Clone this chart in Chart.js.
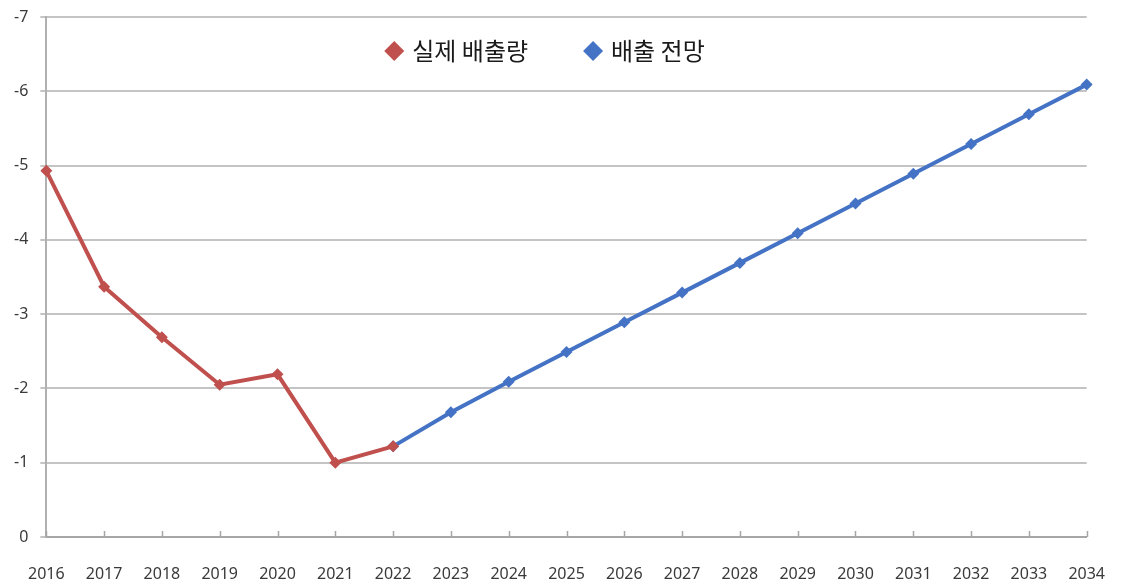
<!DOCTYPE html>
<html>
<head>
<meta charset="utf-8">
<script src="https://cdn.jsdelivr.net/npm/chart.js"></script>
<style>
  html, body { margin: 0; padding: 0; background: #fff; }
  #wrap { width: 1133px; height: 587px; }
</style>
</head>
<body>
<div id="wrap"><canvas id="lineChart" width="1133" height="587"></canvas></div>
<script>
const years = ['2016','2017','2018','2019','2020','2021','2022','2023','2024','2025',
  '2026','2027','2028','2029','2030','2031','2032','2033','2034'];
const actual = [-4.93, -3.37, -2.69, -2.05, -2.19, -1.0, -1.22,
  null, null, null, null, null, null, null, null, null, null, null, null];
const outlook = [null, null, null, null, null, null, -1.22,
  -1.68, -2.09, -2.49, -2.89, -3.29, -3.69, -4.09, -4.49, -4.89, -5.29, -5.69, -6.09];
const yTicks = [0, -1, -2, -3, -4, -5, -6, -7];

const gridGray = '#c4c4c4';
const textColor = '#3a3a3a';

// small tick marks standing up from the category axis
const innerTicks = {
  id: 'innerTicks',
  afterDatasetsDraw(chart) {
    const x = chart.scales.x, ctx = chart.ctx, bottom = chart.chartArea.bottom;
    ctx.save();
    ctx.strokeStyle = '#a6a6a6';
    ctx.lineWidth = 1.5;
    years.forEach((y, i) => {
      const px = Math.round(x.getPixelForTick(i)) + 0.5;
      ctx.beginPath();
      ctx.moveTo(px, bottom);
      ctx.lineTo(px, bottom - 6);
      ctx.stroke();
    });
    ctx.restore();
  }
};

// legend drawn inside the plot, near the top, in one row
const innerLegend = {
  id: 'innerLegend',
  afterDraw(chart) {
    const ctx = chart.ctx, area = chart.chartArea;
    const sets = chart.data.datasets;
    ctx.save();
    ctx.font = "24px 'Noto Sans CJK KR', sans-serif";
    ctx.textBaseline = 'middle';
    const mark = 10, gapText = 8, gapItem = 55;
    const widths = sets.map(d => ctx.measureText(d.label).width);
    let total = 0;
    widths.forEach((w, i) => { total += mark * 2 + gapText + w + (i ? gapItem : 0); });
    let x = (area.left + area.right) / 2 - 22 - total / 2;
    const y = area.top + 34;
    sets.forEach((d, i) => {
      ctx.fillStyle = d.borderColor;
      ctx.beginPath();
      ctx.moveTo(x + mark, y - mark);
      ctx.lineTo(x + mark * 2, y);
      ctx.lineTo(x + mark, y + mark);
      ctx.lineTo(x, y);
      ctx.closePath();
      ctx.fill();
      x += mark * 2 + gapText;
      ctx.fillStyle = '#1a1a1a';
      ctx.fillText(d.label, x, y);
      x += widths[i] + gapItem;
    });
    ctx.restore();
  }
};

const config = {
  type: 'line',
  data: {
    labels: years,
    datasets: [
      {
        label: '실제 배출량',
        data: actual,
        borderColor: '#c0504d',
        backgroundColor: '#c0504d',
        borderWidth: 4,
        pointStyle: 'rectRot',
        pointRadius: 6,
        pointBorderWidth: 0,
        tension: 0
      },
      {
        label: '배출 전망',
        data: outlook,
        borderColor: '#4472c4',
        backgroundColor: '#4472c4',
        borderWidth: 4,
        pointStyle: 'rectRot',
        pointRadius: 6,
        pointBorderWidth: 0,
        tension: 0
      }
    ]
  },
  options: {
    responsive: false,
    animation: false,
    layout: { padding: { top: 17, right: 46, left: 0, bottom: 0 } },
    scales: {
      x: {
        offset: false,
        grid: { display: false, drawTicks: false },
        border: { display: true, color: '#a6a6a6', width: 2 },
        ticks: {
          padding: 28,
          maxRotation: 0,
          autoSkip: false,
          color: textColor,
          font: { family: "'Noto Sans', sans-serif", size: 16 }
        },
        afterFit(scale) { scale.height = 50; }
      },
      y: {
        reverse: true,
        min: -7,
        max: 0,
        afterBuildTicks(scale) { scale.ticks = yTicks.map(v => ({ value: v })); },
        grid: { color: gridGray, lineWidth: 2, tickLength: 6 },
        border: { display: true, color: '#b0b0b0', width: 2 },
        ticks: {
          padding: 12,
          color: textColor,
          font: { family: "'Noto Sans', sans-serif", size: 16 }
        },
        afterFit(scale) {
          scale.width = 41;
          scale.paddingTop = 0;
          scale.paddingBottom = 0;
        }
      }
    },
    plugins: {
      legend: { display: false },
      tooltip: { enabled: false }
    }
  },
  plugins: [innerTicks, innerLegend]
};

new Chart(document.getElementById('lineChart').getContext('2d'), config);
</script>
</body>
</html>
